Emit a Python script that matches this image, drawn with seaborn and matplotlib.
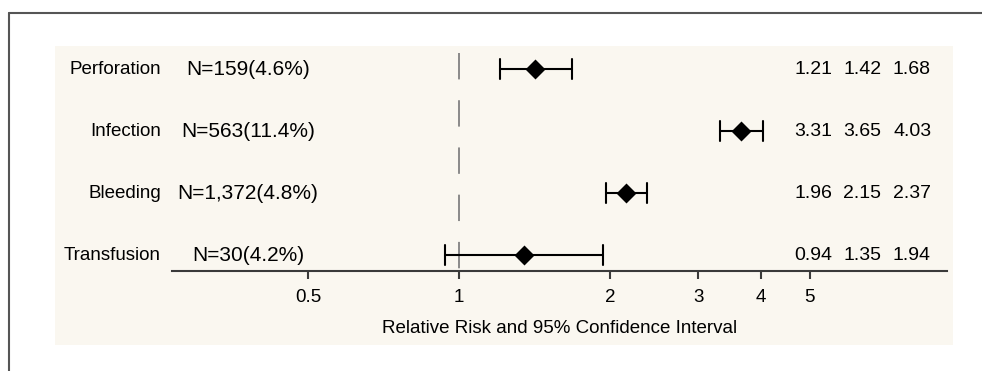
import numpy as np
import pandas as pd
import matplotlib
matplotlib.use("Agg")
import matplotlib.pyplot as plt
import seaborn as sns
from matplotlib.transforms import blended_transform_factory
from matplotlib.patches import Rectangle
from matplotlib.lines import Line2D
from matplotlib.ticker import FixedLocator, NullLocator, FixedFormatter

# ---- data ----
outcomes = ["Perforation", "Infection", "Bleeding", "Transfusion"]
counts = ["N=159(4.6%)", "N=563(11.4%)", "N=1,372(4.8%)", "N=30(4.2%)"]
rr_low = [1.21, 3.31, 1.96, 0.94]
rr_est = [1.42, 3.65, 2.15, 1.35]
rr_high = [1.68, 4.03, 2.37, 1.94]
tick_values = [0.5, 1, 2, 3, 4, 5]
tick_labels = ["0.5", "1", "2", "3", "4", "5"]
x_label = "Relative Risk and 95% Confidence Interval"

df = pd.DataFrame({
    "outcome": np.repeat(outcomes, 3),
    "rr": np.ravel(np.column_stack([rr_low, rr_est, rr_high])),
})

sns.set_theme(style="white")
plt.rcParams["font.family"] = ["Liberation Sans", "DejaVu Sans"]
plt.rcParams["lines.scale_dashes"] = False

W, H = 982, 371
fig = plt.figure(figsize=(W / 100, H / 100), dpi=100)
fig.patch.set_facecolor("white")

# beige panel
fig.add_artist(Rectangle((55 / W, 1 - 345 / H), (953 - 55) / W, (345 - 46) / H,
                         transform=fig.transFigure, facecolor="#FAF7F0",
                         edgecolor="none", zorder=0))
# outer frame lines (top & left)
fig.add_artist(Line2D([9 / W, 1.0], [1 - 13 / H, 1 - 13 / H], transform=fig.transFigure,
                      color="#555555", linewidth=1.5))
fig.add_artist(Line2D([9 / W, 9 / W], [0.0, 1 - 13 / H], transform=fig.transFigure,
                      color="#555555", linewidth=1.5))

left, right, top, bottom = 172, 947, 52.7, 270.7
ax = fig.add_axes([left / W, 1 - bottom / H, (right - left) / W, (bottom - top) / H])
ax.set_facecolor("none")

y_top, y_bot = -0.263, 3.253

# reference line at RR = 1
ax.plot([1, 1], [y_top, y_bot], color="#8a8a8a", linewidth=1.4,
        linestyle=(0, (19, 15)), zorder=1)

sns.pointplot(data=df, x="rr", y="outcome", order=outcomes,
              estimator=np.median, errorbar=lambda v: (v.min(), v.max()),
              log_scale=True, color="black", marker="D", linestyle="none",
              markersize=8.5, capsize=0.32, err_kws={"linewidth": 1.5},
              ax=ax, zorder=3)

ax.set_xscale("log")
ax.set_xlim(0.268, 9.39)
ax.set_ylim(y_bot, y_top)
ax.xaxis.set_major_locator(FixedLocator(tick_values))
ax.xaxis.set_major_formatter(FixedFormatter(tick_labels))
ax.xaxis.set_minor_locator(NullLocator())
ax.set_yticks([])
ax.set_ylabel("")
ax.set_xlabel(x_label, fontsize=13.5, labelpad=10, color="black")
for s in ["left", "top", "right"]:
    ax.spines[s].set_visible(False)
ax.spines["bottom"].set_color("#3a3a3a")
ax.spines["bottom"].set_linewidth(1.5)
ax.tick_params(axis="x", direction="out", length=6, width=1.5, color="#3a3a3a",
               labelsize=13.5, pad=7, labelcolor="black", bottom=True)

# text columns
tr = blended_transform_factory(fig.transFigure, ax.transData)
for i, (name, n, lo, est, hi) in enumerate(zip(outcomes, counts, rr_low, rr_est, rr_high)):
    ax.text(161 / W, i, name, transform=tr, ha="right", va="center",
            fontsize=13.5, color="black", clip_on=False)
    ax.text(248 / W, i, n, transform=tr, ha="center", va="center",
            fontsize=15, color="black", clip_on=False)
    for xpx, v in zip([794, 843.5, 893], [lo, est, hi]):
        ax.text(xpx / W, i, f"{v:.2f}", transform=tr, ha="left", va="center",
                fontsize=14, color="black", clip_on=False)

fig.savefig("out.png", dpi=100, facecolor="white")
